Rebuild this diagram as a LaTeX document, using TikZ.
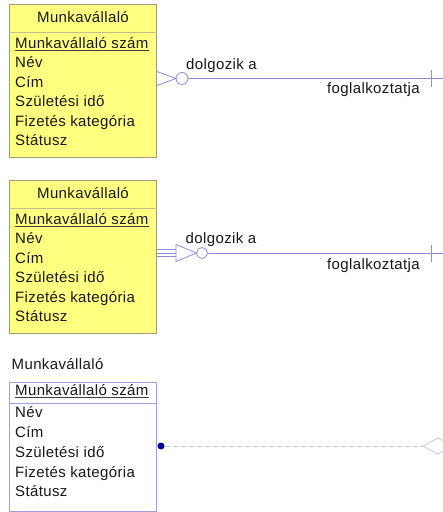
\documentclass[tikz,border=0pt]{standalone}
\usepackage{fontspec}
\setmainfont[LetterSpace=2.5]{Liberation Sans}
\begin{document}
\begin{tikzpicture}[x=1pt,y=-1pt,
  txt/.style={inner sep=0pt, anchor=base west, text=black!90, font=\fontsize{15}{17}\selectfont},
  ttl/.style={inner sep=0pt, anchor=base, text=black!90, font=\fontsize{15}{17}\selectfont},
  yentity/.style={draw=ybord, fill=yfill, line width=0.9pt, inner sep=0pt, anchor=north west,
    minimum width=147pt, minimum height=153pt},
  wentity/.style={draw=bbord, fill=white, line width=0.9pt, inner sep=0pt, anchor=north west,
    minimum width=147pt, minimum height=129pt},
  rel/.style={draw=rline, line width=0.8pt},
  ydiv/.style={draw=ydivc, line width=0.8pt},
  ul/.style={draw=black!75, line width=0.9pt}]
\definecolor{yfill}{HTML}{FFFF80}
\definecolor{ybord}{HTML}{9C9C80}
\definecolor{ydivc}{HTML}{C0C090}
\definecolor{bbord}{HTML}{A0A0E0}
\definecolor{rline}{HTML}{8C8CDC}
\definecolor{dline}{HTML}{C4C4EE}
\definecolor{dotc}{HTML}{000099}
\useasboundingbox (0,0) rectangle (443,512);

% ---------- entity 1 (crow's foot, optional many) ----------
\node[yentity] (e1) at (9,4) {};
\draw[ydiv] (e1.west |- 0,32) -- (e1.east |- 0,32);
\node[ttl] (t1) at (83,22) {Munkavállaló};
\node[txt] (k1) at (15,48.5) {Munkavállaló szám};
\draw[ul] ([yshift=-2pt]k1.base west) -- ([yshift=-2pt]k1.base east);
\node[txt] (a11) at (15,67.8) {Név};
\node[txt] (a12) at (15,87.2) {Cím};
\node[txt] (a13) at (15,106.6) {Születési idő};
\node[txt] (a14) at (15,126) {Fizetés kategória};
\node[txt] (a15) at (15,145.4) {Státusz};

\coordinate (f1) at (176,78.5);
\node[circle, draw=rline, line width=0.8pt, fill=white, minimum size=12pt, inner sep=0pt] (o1) at (182,78.5) {};
\draw[rel] (e1.east |- 0,71.5) -- (f1) -- (e1.east |- 0,85.5);
\coordinate (r1) at (443,78.5);
\draw[rel] (o1.east) -- (r1);
\coordinate (b1t) at (431.5,69.5);
\coordinate (b1b) at (431.5,86.5);
\draw[rel] (b1t) -- (b1b);
\node[txt] (l11) at (186,69.5) {dolgozik a};
\node[txt] (l12) at (327,93.5) {foglalkoztatja};

% ---------- entity 2 (non-transferable) ----------
\node[yentity] (e2) at (9,180) {};
\draw[ydiv] (e2.west |- 0,208) -- (e2.east |- 0,208);
\node[ttl] (t2) at (83,198) {Munkavállaló};
\node[txt] (k2) at (15,224.5) {Munkavállaló szám};
\draw[ul] ([yshift=-2pt]k2.base west) -- ([yshift=-2pt]k2.base east);
\node[txt] (a21) at (15,243.8) {Név};
\node[txt] (a22) at (15,263.2) {Cím};
\node[txt] (a23) at (15,282.6) {Születési idő};
\node[txt] (a24) at (15,302) {Fizetés kategória};
\node[txt] (a25) at (15,321.4) {Státusz};

\coordinate (tt) at (176,244.5);
\coordinate (tb) at (176,261.5);
\coordinate (tp) at (196.5,253);
\draw[rel] (e2.east |- 0,249.5) -- (tt |- 0,249.5);
\draw[rel] (e2.east |- 0,253) -- (tt |- 0,253);
\draw[rel] (e2.east |- 0,256.5) -- (tt |- 0,256.5);
\draw[rel, line join=miter] (tt) -- (tb) -- (tp) -- cycle;
\node[circle, draw=rline, line width=0.8pt, fill=white, minimum size=11pt, inner sep=0pt] (o2) at (202,253) {};
\coordinate (r2) at (443,253);
\draw[rel] (o2.east) -- (r2);
\coordinate (b2t) at (431.5,245);
\coordinate (b2b) at (431.5,262);
\draw[rel] (b2t) -- (b2b);
\node[txt] (l21) at (185.5,243.5) {dolgozik a};
\node[txt] (l22) at (327,269.5) {foglalkoztatja};

% ---------- entity 3 (plain box, dashed link) ----------
\node[txt] (t3) at (11.5,369.5) {Munkavállaló};
\node[wentity] (e3) at (9,382) {};
\draw[draw=bbord, line width=0.8pt] (e3.west |- 0,403) -- (e3.east |- 0,403);
\node[txt] (k3) at (15,395.2) {Munkavállaló szám};
\draw[ul] ([yshift=-2pt]k3.base west) -- ([yshift=-2pt]k3.base east);
\node[txt] (a31) at (15,417.6) {Név};
\node[txt] (a32) at (15,437.4) {Cím};
\node[txt] (a33) at (15,457.2) {Születési idő};
\node[txt] (a34) at (15,477) {Fizetés kategória};
\node[txt] (a35) at (15,496.8) {Státusz};

\node[circle, fill=dotc, minimum size=7pt, inner sep=0pt] (d3) at (161,446) {};
\coordinate (dl) at (423,446);
\draw[draw=dline, line width=0.8pt, dash pattern=on 5pt off 3pt] (d3.east) -- (dl);
\draw[draw=dline, line width=0.8pt] (dl) -- (438,438) -- (453,446) -- (438,454) -- cycle;
\end{tikzpicture}
\end{document}
